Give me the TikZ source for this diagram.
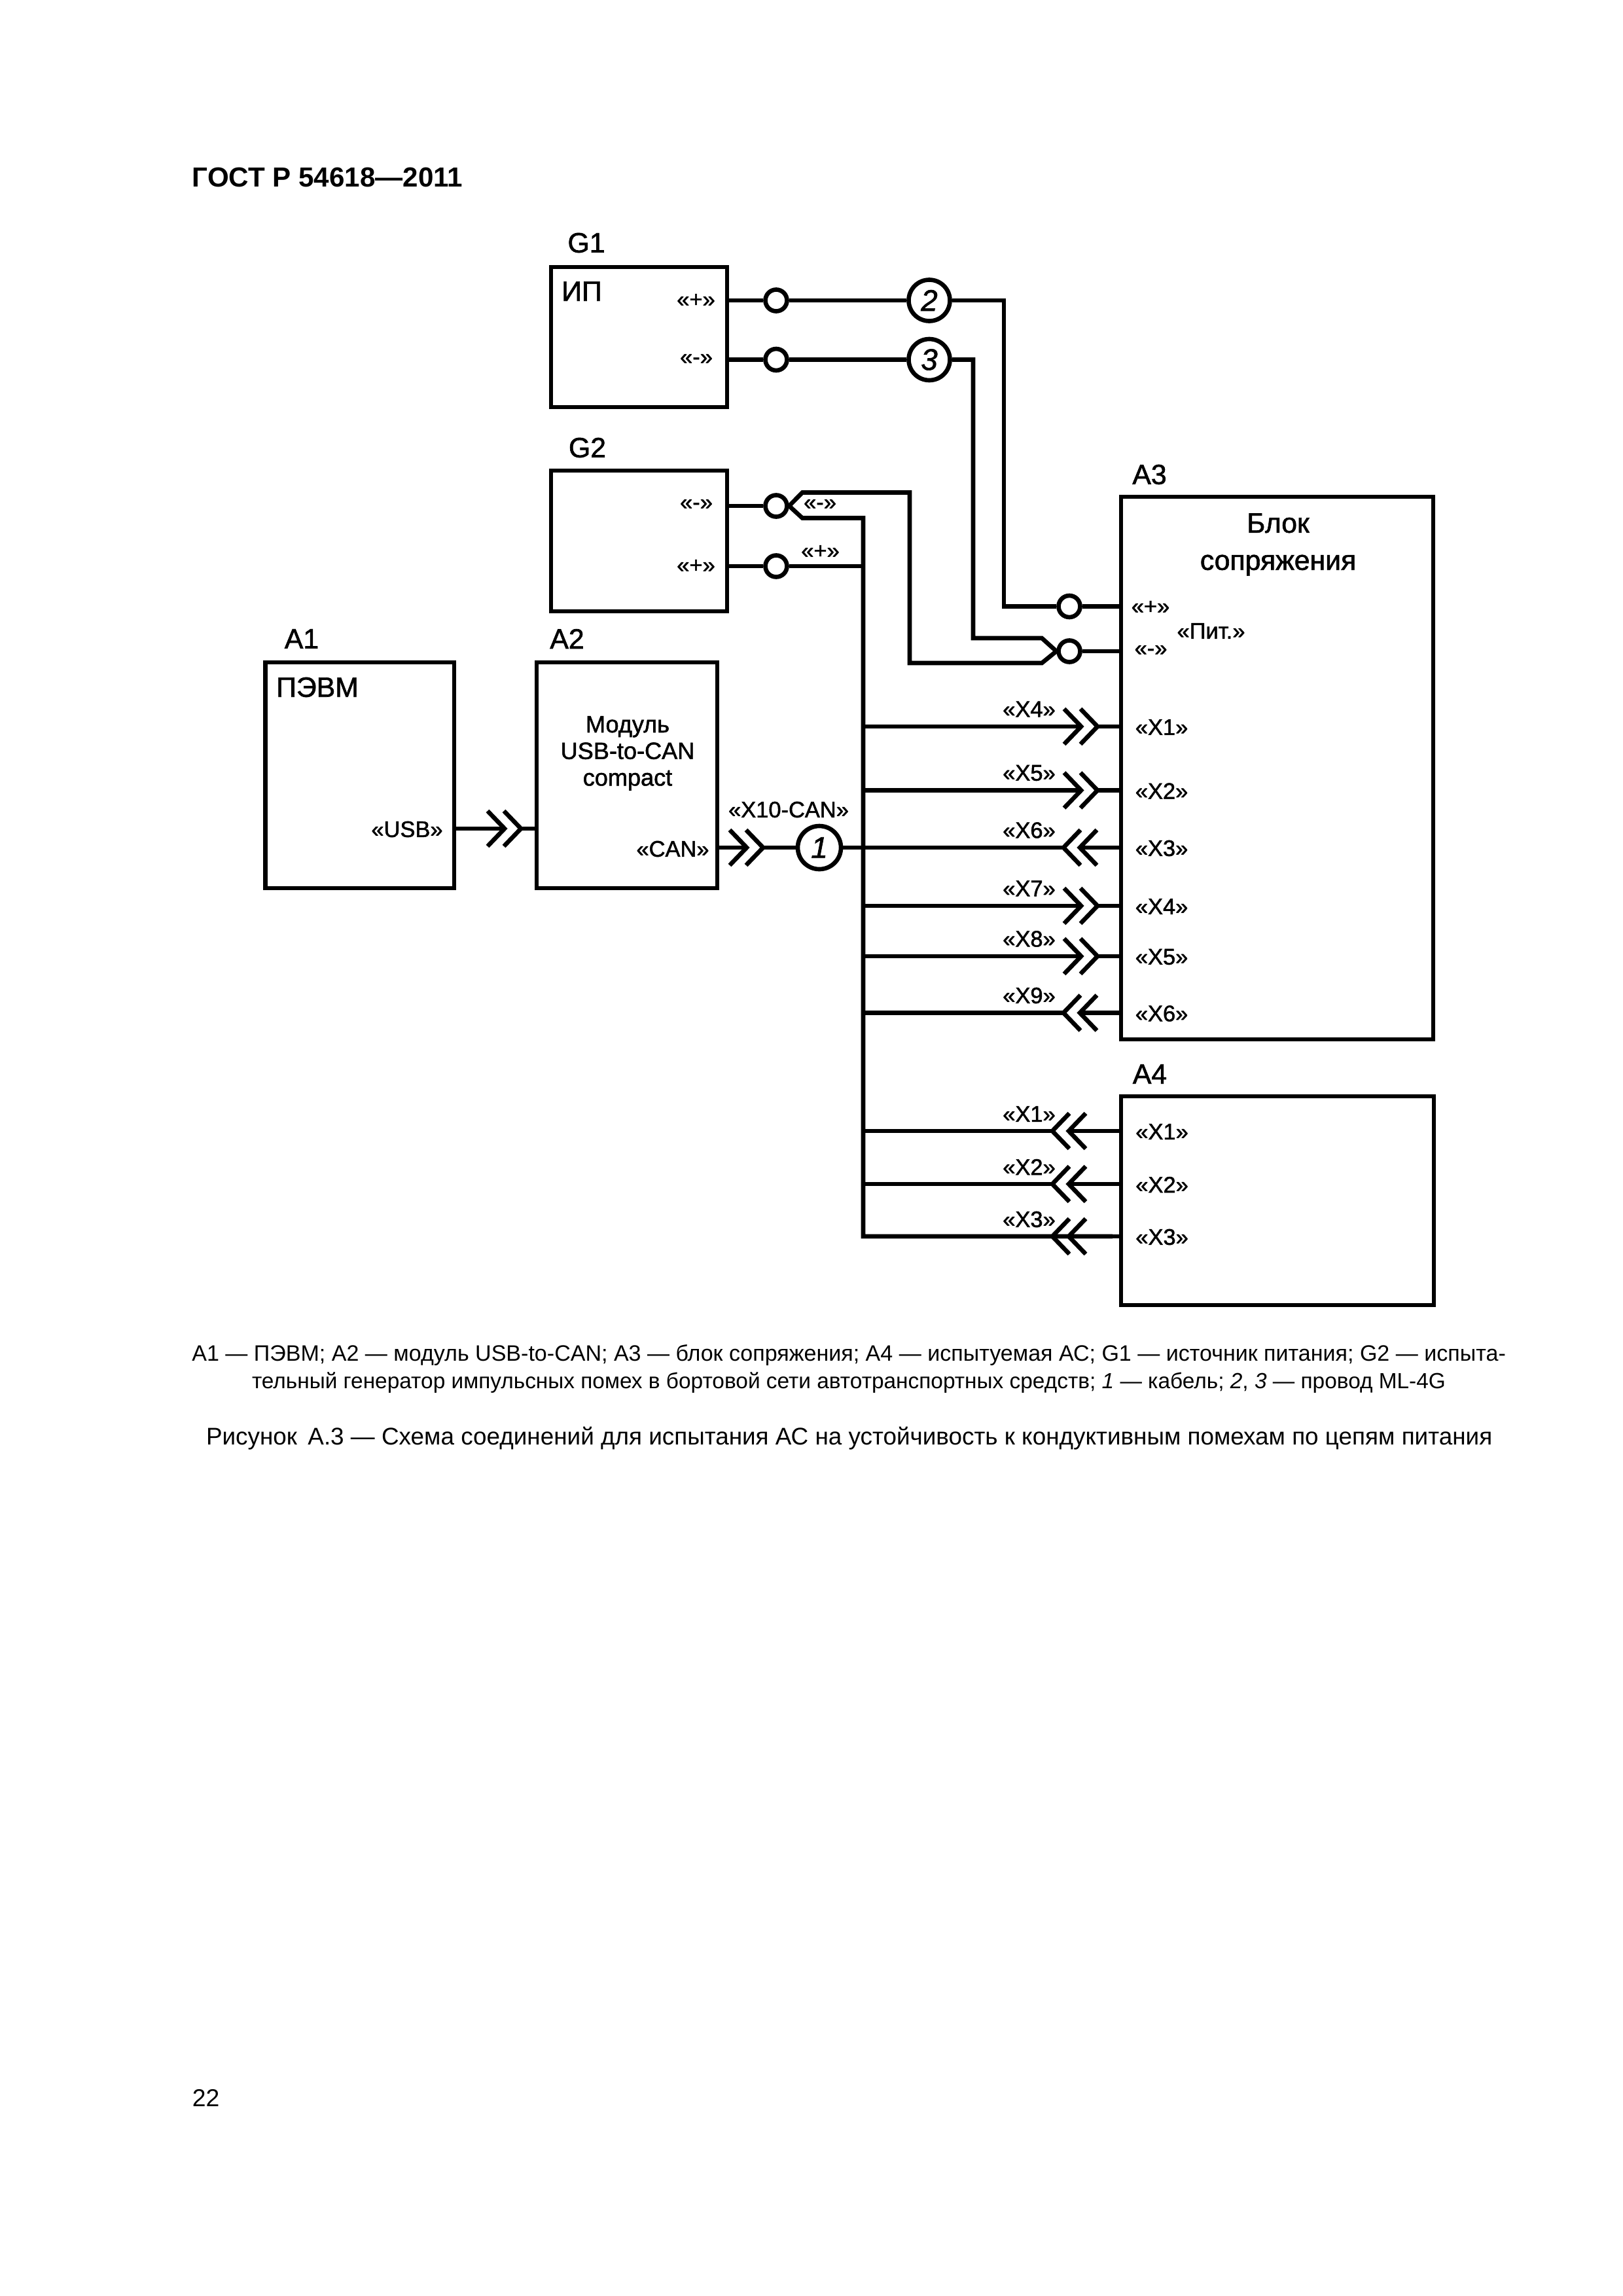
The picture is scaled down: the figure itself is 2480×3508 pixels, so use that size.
\documentclass[tikz,border=0pt]{standalone}
\usepackage{fontspec}
\setmainfont{Liberation Sans}
\newfontfamily\heavy{Liberation Sans}[RawFeature={embolden=1.5}]
\newcommand{\px}{0.2409pt}
\tikzset{
    wire/.style = {line width=1.6pt},
    box/.style = {rectangle, draw=black, line width=1.6pt, inner sep=0pt, outer sep=0pt},
    jack/.style = {circle, draw=black, line width=1.6pt, minimum size=33*\px, inner sep=0pt},
    cab/.style = {circle, draw=black, line width=1.6pt, minimum size=63*\px, inner sep=0pt, font=\heavy\fontsize{11}{13}\selectfont\itshape},
    big/.style = {inner sep=0pt, font=\heavy\fontsize{10.3}{12}\selectfont},
    lbl/.style = {inner sep=0pt, font=\heavy\fontsize{8.3}{10}\selectfont},
    note/.style = {inner sep=0pt, align=center, font=\fontsize{8.2}{10}\selectfont},
    plug/.pic = {
        \draw[wire] (-26,-27) -- (0,0) -- (-26,27);
        \draw[wire] (-1,-27) -- (25,0) -- (-1,27);
        \coordinate (-in) at (0,0);
        \coordinate (-out) at (25,0);
    }
}
\begin{document}
\begin{tikzpicture}[x=\px,y=-\px]
    \useasboundingbox (0,0) rectangle (2480,3508);
    % blocks
    \node [box, minimum width=269*\px, minimum height=214*\px] (g1) at (976.5,515) {};
    \node [box, minimum width=269*\px, minimum height=215*\px] (g2) at (976.5,826.5) {};
    \node [box, minimum width=288.5*\px, minimum height=345*\px] (a1) at (549.75,1184.5) {};
    \node [box, minimum width=276*\px, minimum height=345*\px] (a2) at (958,1184.5) {};
    \node [box, minimum width=477*\px, minimum height=829*\px] (a3) at (1951.5,1173.5) {};
    \node [box, minimum width=478*\px, minimum height=319*\px] (a4) at (1952,1834.5) {};
    % block names
    \node [big] (ng1) at (896,371) {G1};
    \node [big] (ng2) at (897.5,684) {G2};
    \node [big] (na1) at (461,976) {А1};
    \node [big] (na2) at (866.5,976) {А2};
    \node [big] (na3) at (1756.5,725) {А3};
    \node [big] (na4) at (1757,1641) {А4};
    \node [big] (tip) at (889,445) {ИП};
    \node [big] (tpc) at (485,1050) {ПЭВМ};
    \node [big, align=center] (tblk) at (1953,832) {Блок\\[1.7pt]сопряжения};
    \node [inner sep=0pt, align=center, font=\heavy\fontsize{8.7}{9.8}\selectfont] (tmod) at (959,1151) {Модуль\\USB-to-CAN\\compact};
    % G1 wires
    \node [jack] (g1p) at (1186,459) {};
    \node [jack] (g1m) at (1186,549.5) {};
    \node [cab] (c2) at (1420,459) {2};
    \node [cab] (c3) at (1420,549.5) {3};
    \node [jack] (ap) at (1634,926.5) {};
    \node [jack] (am) at (1634,995) {};
    \draw [wire] (g1.east |- g1p) -- (g1p) -- (c2) -- (1534,459) |- (ap) -- (a3.west |- ap);
    \draw [wire] (g1.east |- g1m) -- (g1m) -- (c3) -- (1487,549.5) |- (1592,975) -- (am.west);
    \draw [wire] (am) -- (a3.west |- am);
    \node [lbl] (l1p) at (1063.5,459) {«+»};
    \node [lbl] (l1m) at (1064,549) {«-»};
    % G2 wires
    \node [jack] (gm) at (1186,773) {};
    \node [jack] (gp) at (1186,865) {};
    \coordinate (bus9) at (1319,1889);
    \draw [wire] (g2.east |- gm) -- (gm);
    \draw [wire] (g2.east |- gp) -- (gp) -- (1319,865);
    \draw [wire] (gm.east) -- (1226,752.5) -| (1390,1013) -- (1592,1013) -- (am.west);
    \draw [wire] (gm.east) -- (1226,791.5) -| (bus9) -- (1700,1889);
    \node [lbl] (l2m) at (1064,771) {«-»};
    \node [lbl] (l2p) at (1063.5,865) {«+»};
    \node [lbl] (lfm) at (1253,771) {«-»};
    \node [lbl] (lfp) at (1253.5,843) {«+»};
    \node [lbl] (lap) at (1758,928) {«+»};
    \node [lbl] (lam) at (1758.5,994) {«-»};
    \node [lbl] (lpit) at (1850.5,964) {«Пит.»};
    % A1, A2 and cable 1
    \pic (plug0) at (771,1266) {plug};
    \draw [wire] (a1.east |- plug0-in) -- (plug0-in);
    \draw [wire] (plug0-out) -- (a2.west |- plug0-out);
    \node [lbl] (lusb) at (622,1267) {«USB»};
    \node [lbl] (lcan) at (1028,1297) {«CAN»};
    \node [lbl] (lx10) at (1205,1237) {«X10-CAN»};
    \node [cab, minimum size=66*\px] (c1) at (1252,1295) {1};
    \pic (plug00) at (1141,1295) {plug};
    \draw [wire] (a2.east |- plug00-in) -- (plug00-in);
    \draw [wire] (plug00-out) -- (c1) -- (1319,1295);
    % A3 rows into the block
    \foreach \n/\y/\cabname/\prt in {1/1110/X4/X1, 2/1207.5/X5/X2, 4/1384/X7/X4, 5/1461/X8/X5}
    {
        \pic (plug\n) at (1652,\y) {plug};
        \coordinate (bus\n) at (1319,\y);
        \draw [wire] (bus\n) -- (plug\n-in);
        \draw [wire] (plug\n-out) -- (a3.west |- bus\n);
        \node [lbl] (lc\n) at (1572.5,\y-26.5) {«\cabname»};
        \node [lbl, anchor=west] (lr\n) at (1734,\y+1) {«\prt»};
    }
    % A3 rows out of the block
    \foreach \n/\y/\cabname/\prt in {3/1295/X6/X3, 6/1547.5/X9/X6}
    {
        \pic [rotate=180] (plug\n) at (1650,\y) {plug};
        \coordinate (bus\n) at (1319,\y);
        \draw [wire] (a3.west |- bus\n) -- (plug\n-in);
        \draw [wire] (plug\n-out) -- (bus\n);
        \node [lbl] (lc\n) at (1572.5,\y-26.5) {«\cabname»};
        \node [lbl, anchor=west] (lr\n) at (1734,\y+1) {«\prt»};
    }
    % A4 rows
    \foreach \n/\y/\prt in {7/1728/X1, 8/1809/X2, 9/1889/X3}
    {
        \pic [rotate=180] (plug\n) at (1633,\y) {plug};
        \coordinate (bus\n) at (1319,\y);
        \draw [wire] (a4.west |- bus\n) -- (plug\n-in);
        \draw [wire] (plug\n-out) -- (bus\n);
        \node [lbl] (lc\n) at (1572.5,\y-26) {«\prt»};
        \node [lbl, anchor=west] (lr\n) at (1734.5,\y+1) {«\prt»};
    }
    % page texts
    \node [inner sep=0pt, anchor=base west, font=\fontsize{10.15}{12}\selectfont\bfseries] (head) at (293,285) {ГОСТ Р 54618—2011};
    \node [note] (legend) at (1297,2091.5) {А1 — ПЭВМ; А2 — модуль USB-to-CAN; А3 — блок сопряжения; А4 — испытуемая АС; G1 — источник питания; G2 — испыта-\\{\fontsize{8.05}{10}\selectfont тельный генератор импульсных помех в бортовой сети автотранспортных средств; \textit{1} — кабель; \textit{2}, \textit{3} — провод ML-4G}};
    \node [inner sep=0pt, anchor=base, font=\fontsize{8.88}{10}\selectfont] (caption) at (1297.5,2207) {Рисунок\, А.3 — Схема соединений для испытания АС на устойчивость к кондуктивным помехам по цепям питания};
    \node [inner sep=0pt, anchor=base west, font=\fontsize{9}{11}\selectfont] (pageno) at (293,3218) {22};
\end{tikzpicture}
\end{document}
